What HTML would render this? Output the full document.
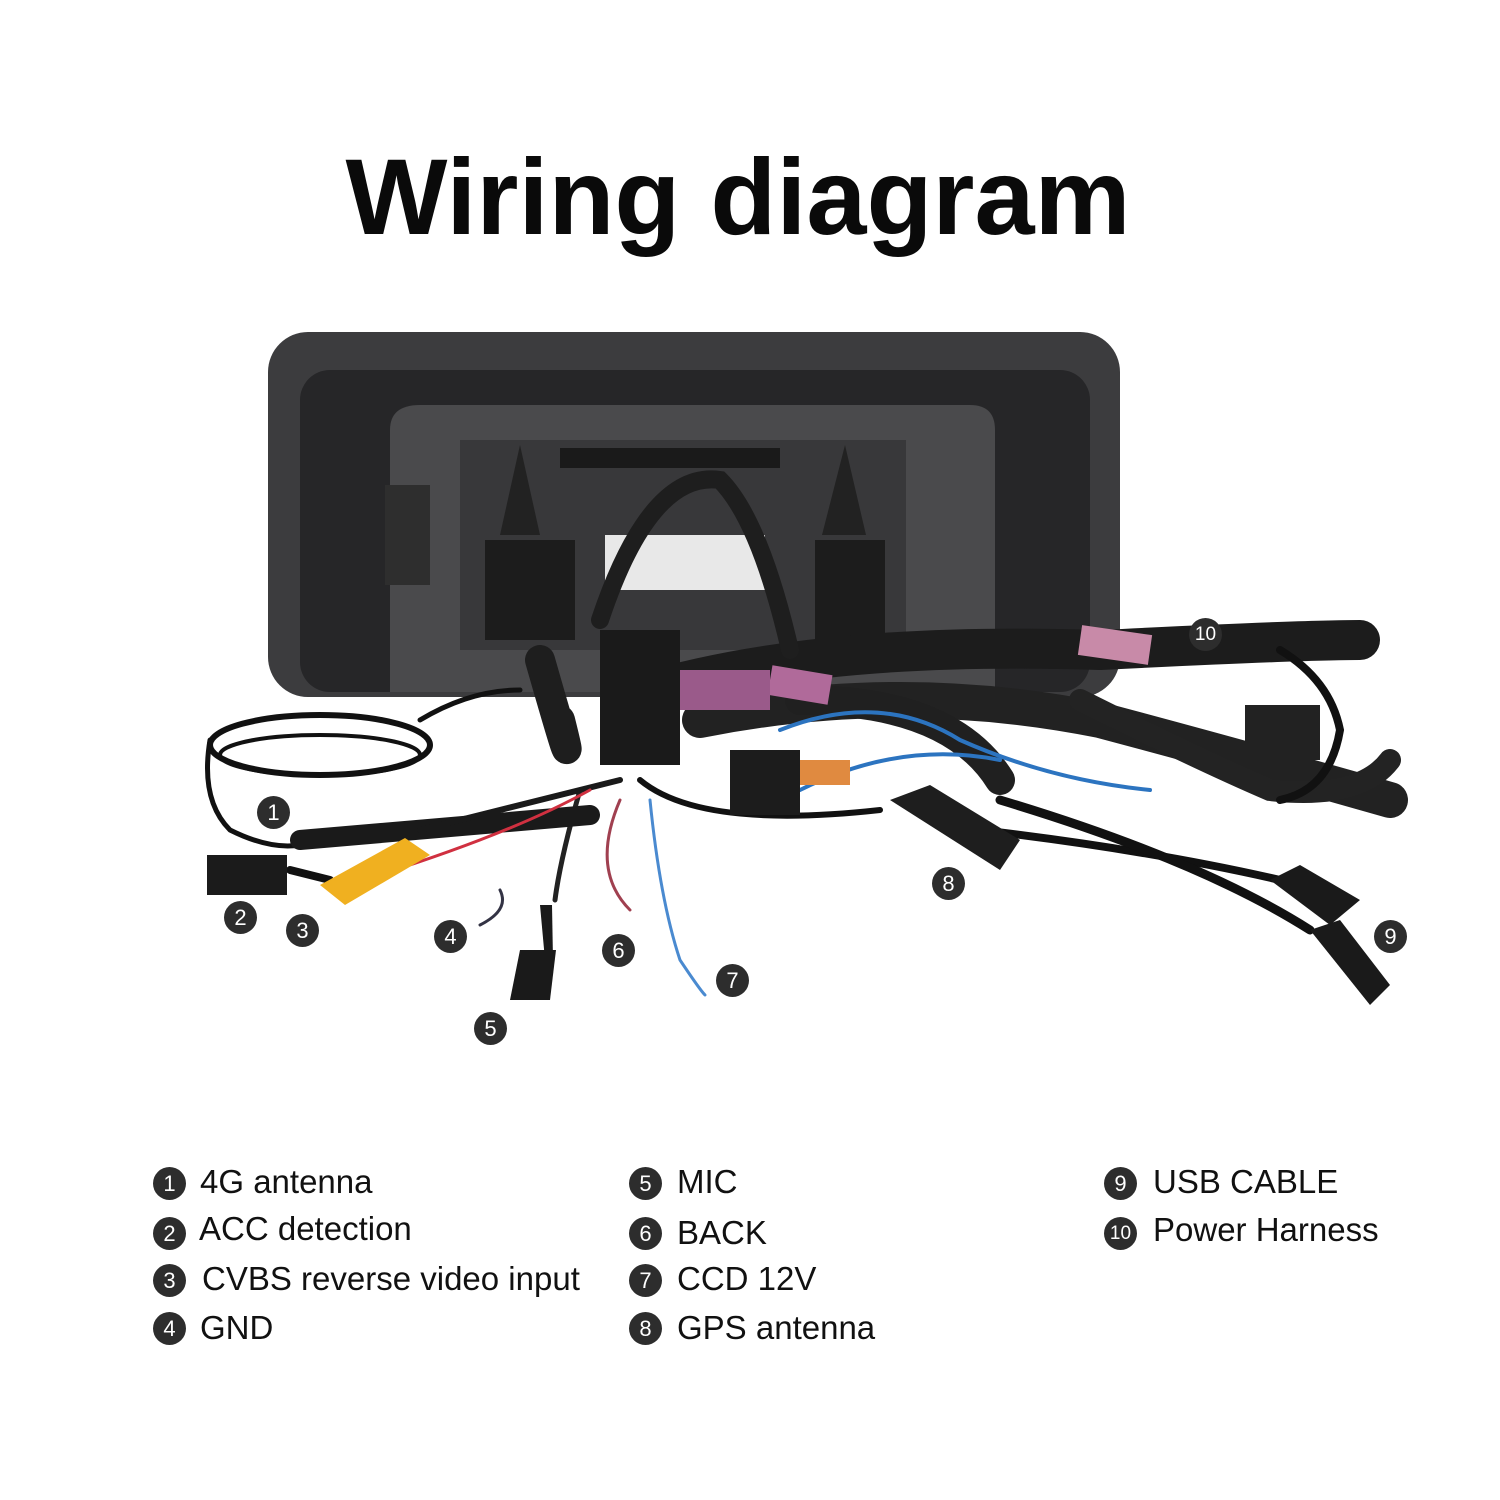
<!DOCTYPE html>
<html><head><meta charset="utf-8"><style>
html,body{margin:0;padding:0;background:#fff;}
body{width:1500px;height:1500px;position:relative;overflow:hidden;font-family:"Liberation Sans",sans-serif;}
.t{position:absolute;left:0;width:1476px;top:134px;text-align:center;font-weight:bold;font-size:108px;color:#0a0a0a;letter-spacing:0px;}
.l{position:absolute;font-size:33px;color:#111;line-height:40px;}
.c{position:absolute;width:33px;height:33px;border-radius:50%;background:#2d2d2d;color:#fff;font-size:22px;text-align:center;line-height:33px;}
</style></head><body>
<div class="t">Wiring diagram</div>
<svg width="1500" height="1500" style="position:absolute;left:0;top:0">
<rect x="268" y="332" width="852" height="365" rx="40" fill="#3c3c3e"/>
<rect x="300" y="370" width="790" height="322" rx="30" fill="#262628"/>
<path d="M390 430 Q390 405 420 405 L970 405 Q995 405 995 430 L995 692 L390 692 Z" fill="#4a4a4c"/>
<rect x="460" y="440" width="446" height="210" fill="#38383a"/>
<rect x="485" y="540" width="90" height="100" fill="#1c1c1c"/>
<rect x="815" y="540" width="70" height="100" fill="#1c1c1c"/>
<rect x="385" y="485" width="45" height="100" fill="#2e2e2e"/>
<rect x="605" y="535" width="160" height="55" fill="#e8e8e8"/>
<g fill="#1a1a1a"><rect x="560" y="448" width="220" height="20"/></g>
<path d="M500 535 L520 445 L540 535 Z" fill="#222"/>
<path d="M822 535 L845 445 L866 535 Z" fill="#222"/>
<g fill="none" stroke-linecap="round">
<path d="M620 700 Q800 640 1100 650 Q1300 640 1360 640" stroke="#1c1c1c" stroke-width="40"/>
<path d="M700 720 Q900 680 1100 720 Q1250 760 1390 800" stroke="#222" stroke-width="36"/>
<path d="M600 620 Q650 470 720 480 Q760 520 790 650" stroke="#1e1e1e" stroke-width="18"/>
<path d="M560 720 Q580 800 540 660" stroke="#1e1e1e" stroke-width="30"/>
<path d="M800 700 Q950 700 1000 780" stroke="#202020" stroke-width="30"/>
<path d="M1080 700 Q1200 760 1270 790 Q1360 800 1390 760" stroke="#232323" stroke-width="22"/>
<path d="M1280 650 Q1330 680 1340 730 Q1330 790 1280 800" stroke="#111" stroke-width="8"/>
<path d="M780 730 Q880 690 960 740 Q1050 780 1150 790" stroke="#2c74c0" stroke-width="4"/>
<path d="M800 790 Q900 740 1000 760" stroke="#2c74c0" stroke-width="4"/>
<path d="M650 800 Q660 900 680 960 Q700 990 705 995" stroke="#4a8ad0" stroke-width="3"/>
<path d="M620 800 Q590 870 630 910" stroke="#a04050" stroke-width="3"/>
<path d="M580 790 Q560 860 555 900" stroke="#222" stroke-width="5"/>
<path d="M500 890 Q510 910 480 925" stroke="#334" stroke-width="3"/>
<path d="M210 740 Q200 800 230 830 Q270 850 300 845" stroke="#111" stroke-width="5"/>
<ellipse cx="320" cy="745" rx="110" ry="30" stroke="#111" stroke-width="6"/>
<ellipse cx="320" cy="755" rx="100" ry="20" stroke="#111" stroke-width="4"/>
<path d="M420 720 Q470 690 520 690" stroke="#111" stroke-width="5"/>
<path d="M300 840 L590 815" stroke="#1a1a1a" stroke-width="20"/>
<path d="M420 830 L620 780" stroke="#1a1a1a" stroke-width="6"/>
<path d="M330 890 Q500 840 590 790" stroke="#d03040" stroke-width="3"/>
<path d="M290 870 L330 880" stroke="#111" stroke-width="8"/>
<path d="M980 830 Q1150 850 1280 880" stroke="#111" stroke-width="8"/>
<path d="M1000 800 Q1200 860 1310 930" stroke="#111" stroke-width="9"/>
<path d="M640 780 Q700 830 880 810" stroke="#111" stroke-width="6"/>
</g>
<rect x="600" y="630" width="80" height="135" fill="#1a1a1a"/>
<rect x="730" y="750" width="70" height="65" fill="#1c1c1c"/>
<rect x="800" y="760" width="50" height="25" fill="#e08a40"/>
<path d="M770 680 L830 690" stroke="#b06a9a" stroke-width="30"/>
<path d="M1080 640 L1150 650" stroke="#c88aa8" stroke-width="30"/>
<path d="M680 690 L770 690" stroke="#9a5a8a" stroke-width="40"/>
<rect x="1245" y="705" width="75" height="55" fill="#222"/>
<path d="M890 800 L930 785 L1020 840 L1000 870 Z" fill="#1e1e1e"/>
<path d="M1270 880 L1300 865 L1360 900 L1330 925 Z" fill="#1a1a1a"/>
<path d="M1310 930 L1340 920 L1390 985 L1370 1005 Z" fill="#1a1a1a"/>
<rect x="207" y="855" width="80" height="40" fill="#1b1b1b"/>
<path d="M320 885 L405 838 L430 855 L345 905 Z" fill="#f0b020"/>
<path d="M540 905 L552 905 L553 960 L545 960 Z" fill="#1a1a1a"/>
<path d="M520 950 L556 950 L550 1000 L510 1000 Z" fill="#1a1a1a"/>
</svg>
<div class="c" style="left:257px;top:796px">1</div>
<div class="c" style="left:224px;top:901px">2</div>
<div class="c" style="left:286px;top:914px">3</div>
<div class="c" style="left:434px;top:920px">4</div>
<div class="c" style="left:474px;top:1012px">5</div>
<div class="c" style="left:602px;top:934px">6</div>
<div class="c" style="left:716px;top:964px">7</div>
<div class="c" style="left:932px;top:867px">8</div>
<div class="c" style="left:1374px;top:920px">9</div>
<div class="c" style="left:1189px;top:618px;font-size:19px">10</div>

<div class="c" style="left:153px;top:1167px">1</div><div class="l" style="left:200px;top:1162px">4G antenna</div>
<div class="c" style="left:153px;top:1217px">2</div><div class="l" style="left:199px;top:1209px">ACC detection</div>
<div class="c" style="left:153px;top:1264px">3</div><div class="l" style="left:202px;top:1259px">CVBS reverse video input</div>
<div class="c" style="left:153px;top:1312px">4</div><div class="l" style="left:200px;top:1308px">GND</div>
<div class="c" style="left:629px;top:1167px">5</div><div class="l" style="left:677px;top:1162px">MIC</div>
<div class="c" style="left:629px;top:1217px">6</div><div class="l" style="left:677px;top:1213px">BACK</div>
<div class="c" style="left:629px;top:1264px">7</div><div class="l" style="left:677px;top:1259px">CCD 12V</div>
<div class="c" style="left:629px;top:1312px">8</div><div class="l" style="left:677px;top:1308px">GPS antenna</div>
<div class="c" style="left:1104px;top:1167px">9</div><div class="l" style="left:1153px;top:1162px">USB CABLE</div>
<div class="c" style="left:1104px;top:1217px;font-size:19px">10</div><div class="l" style="left:1153px;top:1210px">Power Harness</div>
</body></html>
